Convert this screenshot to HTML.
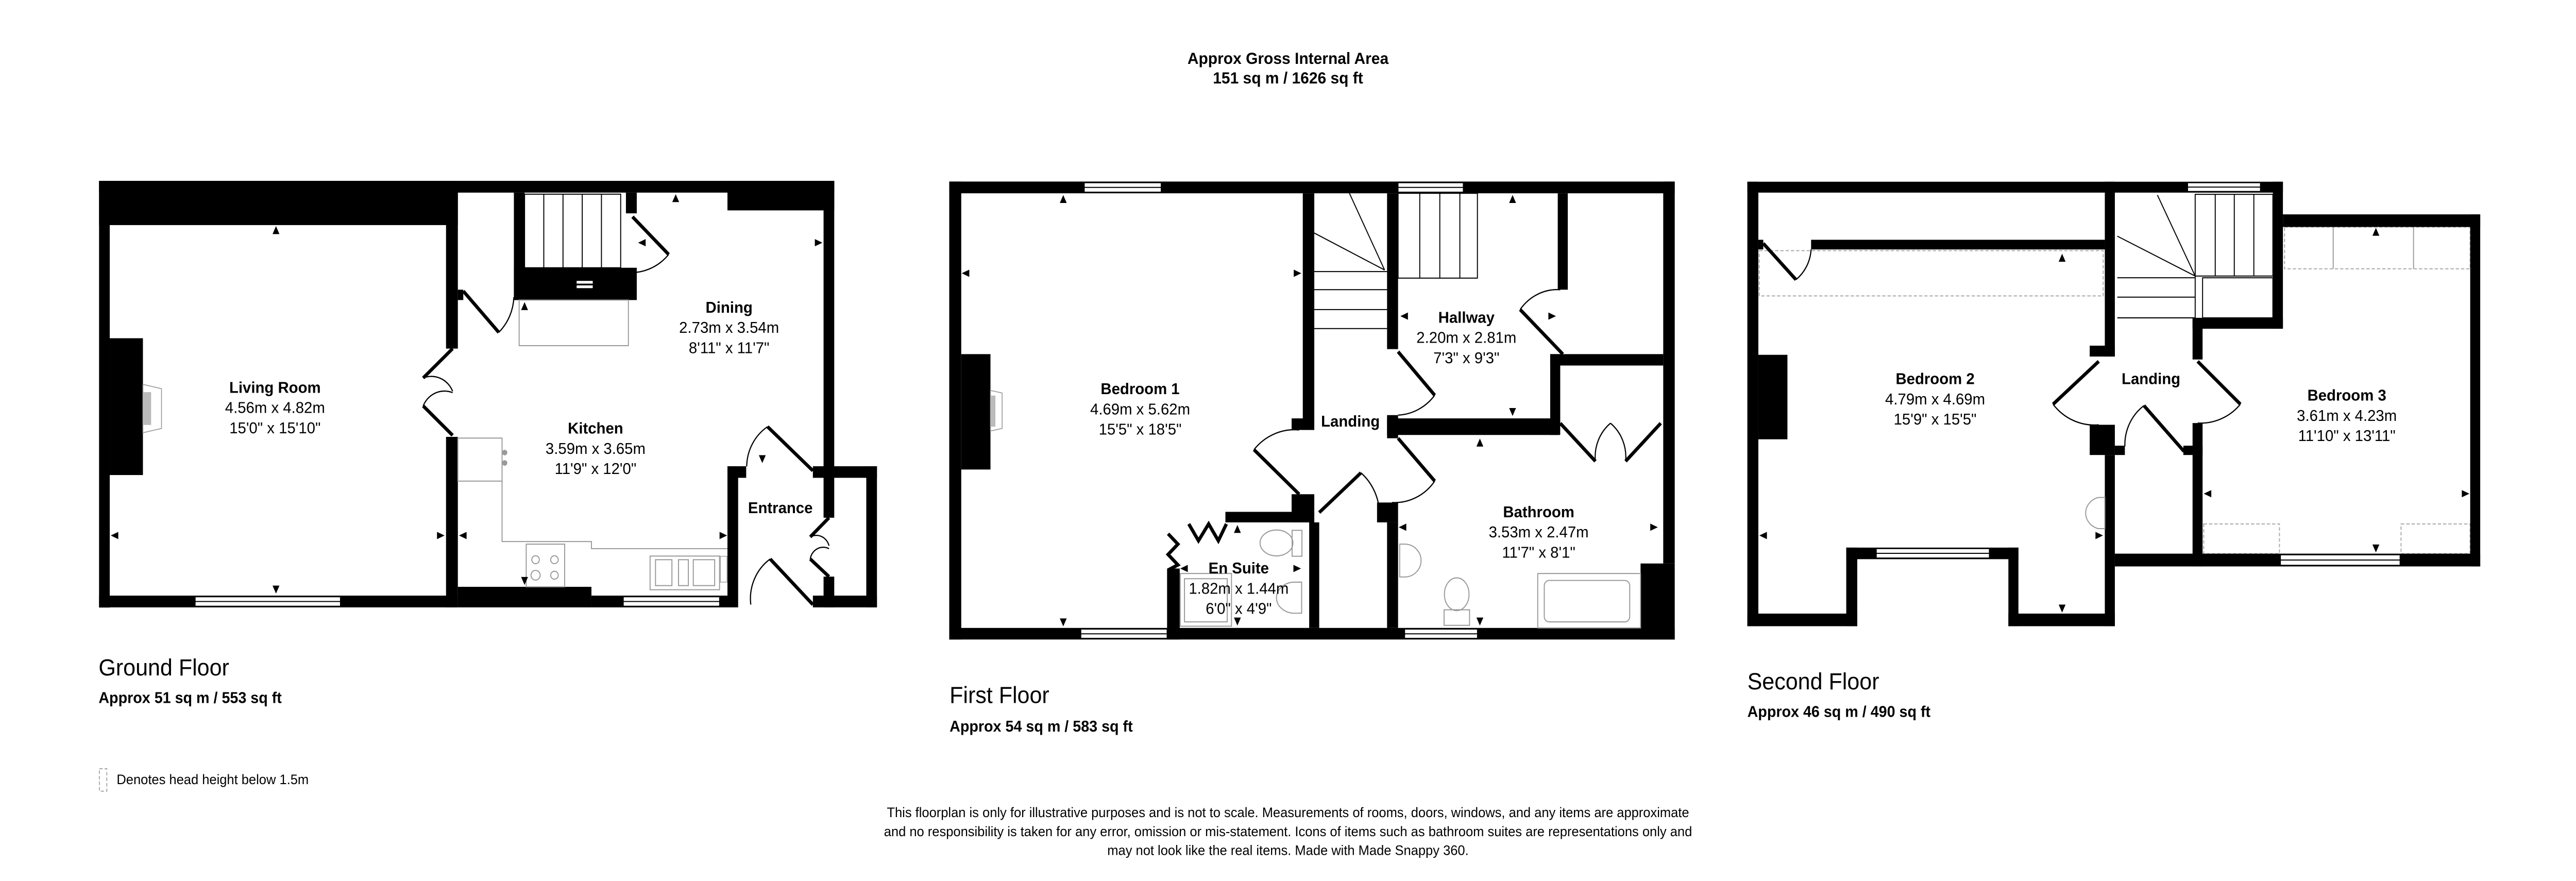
<!DOCTYPE html>
<html><head><meta charset="utf-8"><style>
html,body{margin:0;padding:0;background:#fff;width:100%;height:100%;overflow:hidden;}
svg{display:block;position:absolute;left:0;top:0;width:100vw;height:100vh;}
text{font-family:"Liberation Sans",Arial,sans-serif;fill:#000;}
.n{font-weight:bold;font-size:9.2px;text-anchor:middle;}
.d{font-size:9.2px;text-anchor:middle;}
.w{fill:#000;}
.win{fill:#fff;stroke:#000;stroke-width:0.5;}
.dr{stroke:#000;stroke-width:2;fill:none;stroke-linecap:butt;}
.arc{stroke:#000;stroke-width:0.7;fill:none;}
.th{stroke:#000;stroke-width:0.6;fill:none;}
.g{stroke:#999;stroke-width:0.6;fill:none;}
.ds{stroke:#aaa;stroke-width:0.6;fill:none;stroke-dasharray:2,1.2;}
</style></head><body>
<svg viewBox="0 0 1568 510" preserveAspectRatio="none" xmlns="http://www.w3.org/2000/svg">
<defs>
<path id="au" d="M0,-2.6 L-2.1,2 L2.1,2Z" fill="#000"/>
</defs>
<rect x="0" y="0" width="1568" height="510" fill="#fff"/>

<text x="784" y="37" style="font-weight:bold;font-size:9.4px;text-anchor:middle">Approx Gross Internal Area</text>
<text x="784" y="48.3" style="font-weight:bold;font-size:9.4px;text-anchor:middle">151 sq m / 1626 sq ft</text>

<!-- ================= GROUND FLOOR ================= -->
<g>
<rect class="w" x="60.3" y="104.7" width="447.5" height="6.8"/>
<rect class="w" x="60.3" y="104.7" width="218.4" height="25.6"/>
<rect class="w" x="442.8" y="104.7" width="65" height="17.1"/>
<rect class="w" x="60.3" y="104.7" width="6.5" height="247"/>
<rect class="w" x="60.3" y="344.8" width="218.4" height="6.8"/>
<rect class="win" x="118.8" y="345.5" width="88.4" height="5.4"/>
<line class="th" x1="118.8" y1="348.2" x2="207.2" y2="348.2"/>
<rect class="w" x="271.5" y="104.7" width="7.2" height="97.1"/>
<rect class="w" x="271.5" y="252.9" width="7.2" height="98.7"/>
<rect class="w" x="278.7" y="339.7" width="81.3" height="11.9"/>
<rect class="w" x="360" y="344.8" width="82.8" height="6.8"/>
<rect class="win" x="379.4" y="345.5" width="58.6" height="5.4"/>
<line class="th" x1="379.4" y1="348.2" x2="438" y2="348.2"/>
<rect class="w" x="442.8" y="269.9" width="6.5" height="81.7"/>
<rect class="w" x="442.8" y="269.9" width="11.4" height="6.7"/>
<rect class="w" x="494.8" y="269.9" width="39" height="6.7"/>
<rect class="w" x="501.3" y="104.7" width="6.5" height="171.9"/>
<rect class="w" x="527.3" y="269.9" width="6.5" height="81.7"/>
<rect class="w" x="501.3" y="276.6" width="6.5" height="23.1"/>
<rect class="w" x="501.3" y="333.8" width="6.5" height="17.8"/>
<rect class="w" x="494.8" y="344.8" width="39" height="6.8"/>
<rect class="w" x="66.8" y="195.8" width="20.2" height="79.2"/>
<path d="M87,222.5 L98.3,225 L98.3,248 L87,250.5Z" fill="#fff" stroke="#999" stroke-width="0.5"/>
<rect x="87" y="227" width="5" height="19" fill="#bbb"/>
<rect x="319.3" y="112.4" width="58.5" height="42.6" fill="#fff" stroke="#000" stroke-width="0.6"/>
<line class="th" x1="331" y1="112.4" x2="331" y2="155"/>
<line class="th" x1="342.7" y1="112.4" x2="342.7" y2="155"/>
<line class="th" x1="354.4" y1="112.4" x2="354.4" y2="155"/>
<line class="th" x1="366.1" y1="112.4" x2="366.1" y2="155"/>
<rect class="w" x="312.8" y="111.5" width="6.5" height="62.2"/>
<rect class="w" x="312.8" y="155" width="74.8" height="18.7"/>
<rect class="w" x="381" y="111.5" width="6.6" height="12"/>
<rect x="351" y="162.6" width="9.8" height="1.6" fill="#fff"/>
<rect x="351" y="165.2" width="9.8" height="1.6" fill="#fff"/>
<rect class="w" x="278.7" y="167.7" width="3.3" height="6"/>
<rect class="g" x="316" y="173.7" width="66.5" height="26.4"/>
<rect class="g" x="278.7" y="253.6" width="26.9" height="24.9"/>
<circle cx="307.2" cy="262" r="1.6" fill="#999"/>
<circle cx="307.2" cy="268" r="1.6" fill="#999"/>
<polyline class="g" points="305.6,278.5 305.6,313.5 360,313.5 360,317.6 442.8,317.6"/>
<rect class="g" x="320.3" y="315" width="23.4" height="24.7"/>
<circle class="g" cx="326" cy="324" r="2.3"/><circle class="g" cx="337.5" cy="324" r="2.3"/>
<circle class="g" cx="326" cy="333" r="2.8"/><circle class="g" cx="337.5" cy="333" r="2.3"/>
<rect class="g" x="395.7" y="321.9" width="42.3" height="19.5"/>
<rect class="g" x="399" y="324" width="10" height="15"/>
<rect class="g" x="413" y="324" width="6" height="15"/>
<rect class="g" x="422" y="324" width="13" height="15"/>
<rect x="438.5" y="322" width="4" height="15" fill="#fff" stroke="#999" stroke-width="0.4"/>
<line class="dr" x1="282" y1="168.5" x2="303.6" y2="192.4"/>
<path class="arc" d="M303.6,192.4 A30,30 0 0 0 312.8,172"/>
<line class="dr" x1="385" y1="125.5" x2="407" y2="147.3"/>
<path class="arc" d="M407,147.3 A30,30 0 0 1 380,157.5"/>
<line class="dr" x1="275.5" y1="201.8" x2="257.6" y2="218.8"/>
<path class="arc" d="M257.6,218.8 A14,14 0 0 1 275.5,226.5"/>
<line class="dr" x1="275.5" y1="252" x2="257.6" y2="235"/>
<path class="arc" d="M257.6,235 A14,14 0 0 1 275.5,227.3"/>
<line class="dr" x1="467.2" y1="247" x2="494.8" y2="272.5"/>
<path class="arc" d="M467.2,247 A28,28 0 0 0 454.5,270"/>
<line class="dr" x1="468.8" y1="323.6" x2="494.8" y2="350"/>
<path class="arc" d="M468.8,323.6 A28,28 0 0 0 457,350"/>
<line class="dr" x1="504.6" y1="299.7" x2="493.2" y2="310.8"/>
<path class="arc" d="M493.2,310.8 A8,8 0 0 1 504.6,315.9"/>
<line class="dr" x1="504.6" y1="333.8" x2="493.2" y2="323.6"/>
<path class="arc" d="M493.2,323.6 A8,8 0 0 1 504.6,317.6"/>
<use href="#au" x="168" y="133.5"/>
<use href="#au" transform="translate(168,341) rotate(180)"/>
<use href="#au" transform="translate(70,310) rotate(-90)"/>
<use href="#au" transform="translate(268,310) rotate(90)"/>
<use href="#au" transform="translate(282,310) rotate(-90)"/>
<use href="#au" transform="translate(440,310) rotate(90)"/>
<use href="#au" transform="translate(319.3,336) rotate(180)"/>
<use href="#au" x="319.3" y="177.5"/>
<use href="#au" x="411.3" y="115"/>
<use href="#au" transform="translate(498,140.5) rotate(90)"/>
<use href="#au" transform="translate(391,140.5) rotate(-90)"/>
<use href="#au" transform="translate(464,265.5) rotate(180)"/>
<text class="n" x="167.4" y="227.4">Living Room</text>
<text class="d" x="167.4" y="239.1">4.56m x 4.82m</text>
<text class="d" x="167.4" y="250.8">15'0" x 15'10"</text>
<text class="n" x="443.8" y="181">Dining</text>
<text class="d" x="443.8" y="192.7">2.73m x 3.54m</text>
<text class="d" x="443.8" y="204.4">8'11" x 11'7"</text>
<text class="n" x="362.5" y="251">Kitchen</text>
<text class="d" x="362.5" y="262.7">3.59m x 3.65m</text>
<text class="d" x="362.5" y="274.4">11'9" x 12'0"</text>
<text class="n" x="475" y="297">Entrance</text>
<text x="60" y="391" style="font-size:13.5px">Ground Floor</text>
<text x="60" y="407" style="font-size:9px;font-weight:bold">Approx 51 sq m / 553 sq ft</text>
</g>

<!-- ================= FIRST FLOOR ================= -->
<g>
<rect class="w" x="577.8" y="105.1" width="441.6" height="6.8"/>
<rect class="win" x="660" y="105.8" width="46.8" height="5.4"/>
<line class="th" x1="660" y1="108.5" x2="706.8" y2="108.5"/>
<rect class="win" x="851" y="105.8" width="39.7" height="5.4"/>
<line class="th" x1="851" y1="108.5" x2="890.7" y2="108.5"/>
<rect class="w" x="577.8" y="105.1" width="7.3" height="265.1"/>
<rect class="w" x="577.8" y="363.5" width="441.6" height="6.7"/>
<rect class="win" x="657.9" y="364.2" width="52.5" height="5.3"/>
<line class="th" x1="657.9" y1="366.9" x2="710.4" y2="366.9"/>
<rect class="win" x="855" y="364.2" width="44.3" height="5.3"/>
<line class="th" x1="855" y1="366.9" x2="899.3" y2="366.9"/>
<rect class="w" x="1012.4" y="105.1" width="7" height="221.1"/>
<rect class="w" x="998.6" y="326.2" width="20.8" height="44"/>
<rect class="w" x="585.1" y="205" width="17.8" height="66.8"/>
<path d="M602.9,226 L610,227.5 L610,248 L602.9,249.5Z" fill="#fff" stroke="#999" stroke-width="0.5"/>
<rect x="602.9" y="229" width="3" height="18" fill="#bbb"/>
<rect class="w" x="793" y="111.9" width="7" height="137"/>
<rect class="w" x="786.2" y="242.2" width="13.8" height="6.7"/>
<rect class="w" x="786.2" y="286.1" width="13.8" height="16.3"/>
<rect class="w" x="745.9" y="296.3" width="54.1" height="6.1"/>
<rect class="w" x="796.9" y="302.4" width="6.1" height="61.1"/>
<rect class="w" x="710.4" y="329.1" width="7.7" height="41.1"/>
<rect class="w" x="844.3" y="111.9" width="6.7" height="90.2"/>
<rect class="w" x="844.3" y="240.3" width="6.7" height="13.4"/>
<rect class="w" x="844.3" y="242.2" width="103.9" height="9.6"/>
<rect class="w" x="838.2" y="290.9" width="12.8" height="11.5"/>
<rect class="w" x="844.3" y="302.4" width="6.7" height="61.1"/>
<rect class="w" x="948.2" y="111.9" width="6.1" height="55.8"/>
<rect class="w" x="943.6" y="205" width="68.8" height="6.6"/>
<rect class="w" x="943.6" y="205" width="6.1" height="46.8"/>
<rect x="851" y="111.9" width="48.3" height="49.1" fill="none" stroke="#000" stroke-width="0.6"/>
<line class="th" x1="864.2" y1="111.9" x2="864.2" y2="161"/>
<line class="th" x1="876.4" y1="111.9" x2="876.4" y2="161"/>
<line class="th" x1="888.6" y1="111.9" x2="888.6" y2="161"/>
<line class="th" x1="821.4" y1="111.9" x2="842.8" y2="156.3"/>
<line class="th" x1="800" y1="134.9" x2="842.8" y2="156.3"/>
<line class="th" x1="800" y1="157.2" x2="844.3" y2="157.2"/>
<line class="th" x1="800" y1="167.7" x2="844.3" y2="167.7"/>
<line class="th" x1="800" y1="179.2" x2="844.3" y2="179.2"/>
<line class="th" x1="800" y1="190.2" x2="844.3" y2="190.2"/>
<line class="dr" x1="851" y1="203.6" x2="873.3" y2="228.8"/>
<path class="arc" d="M873.3,228.8 A30,30 0 0 1 851,240.3"/>
<line class="dr" x1="790.8" y1="286.1" x2="763.3" y2="260.3"/>
<path class="arc" d="M763.3,260.3 A32,32 0 0 1 790.8,248.9"/>
<line class="dr" x1="851" y1="253.7" x2="873.3" y2="278.5"/>
<path class="arc" d="M873.3,278.5 A30,30 0 0 1 847.3,290.9"/>
<line class="dr" x1="803" y1="296.7" x2="828.4" y2="273.7"/>
<path class="arc" d="M828.4,273.7 A32,32 0 0 1 839.7,296.7"/>
<line class="dr" x1="951.3" y1="205" x2="925.3" y2="179.2"/>
<path class="arc" d="M925.3,179.2 A28,28 0 0 1 949.7,167.7"/>
<polyline class="dr" points="949.7,245 971.1,267"/>
<path class="arc" d="M971.1,267 A25,25 0 0 1 980.3,245"/>
<polyline class="dr" points="1010.9,245 989.5,267"/>
<path class="arc" d="M989.5,267 A25,25 0 0 0 980.3,245"/>
<polyline class="dr" points="723.6,303.3 729.5,313 735.7,303.3 741.6,313 746.5,303.3"/>
<polyline class="dr" points="711,309 717,315 711,321 717,327 711,330"/>
<rect class="g" x="936" y="332" width="62.6" height="31.5"/>
<rect class="g" x="940" y="336" width="52" height="24" rx="3"/>
<ellipse class="g" cx="886.7" cy="344" rx="7.5" ry="9.5"/>
<rect class="g" x="879" y="353" width="15.5" height="9"/>
<path class="g" d="M852,315 L855,315 A10,9.5 0 0 1 855,334 L852,334Z"/>
<ellipse class="g" cx="777" cy="314.3" rx="10" ry="7.5"/>
<rect class="g" x="786.5" y="307" width="6" height="15"/>
<path class="g" d="M792.3,337 L788,337 A11,9 0 0 0 788,355 L792.3,355Z"/>
<rect class="g" x="718.4" y="332" width="31.2" height="30.5"/>
<rect class="g" x="721" y="335" width="26" height="25"/>
<use href="#au" x="647.2" y="115.5"/>
<use href="#au" transform="translate(647.2,360) rotate(180)"/>
<use href="#au" transform="translate(588,158.2) rotate(-90)"/>
<use href="#au" transform="translate(789.5,158.2) rotate(90)"/>
<use href="#au" x="920.7" y="115.5"/>
<use href="#au" transform="translate(920.7,238.2) rotate(180)"/>
<use href="#au" transform="translate(855,183) rotate(-90)"/>
<use href="#au" transform="translate(944.5,183) rotate(90)"/>
<use href="#au" x="900.8" y="256.5"/>
<use href="#au" transform="translate(854,305.2) rotate(-90)"/>
<use href="#au" transform="translate(1006.5,305.2) rotate(90)"/>
<use href="#au" transform="translate(900.8,359.5) rotate(180)"/>
<use href="#au" x="753.2" y="306.5"/>
<use href="#au" transform="translate(753.2,359.5) rotate(180)"/>
<use href="#au" transform="translate(721,329.1) rotate(-90)"/>
<use href="#au" transform="translate(789.3,329.1) rotate(90)"/>
<text class="n" x="694" y="228.2">Bedroom 1</text>
<text class="d" x="694" y="239.9">4.69m x 5.62m</text>
<text class="d" x="694" y="251.6">15'5" x 18'5"</text>
<text class="n" x="892.6" y="186.8">Hallway</text>
<text class="d" x="892.6" y="198.5">2.20m x 2.81m</text>
<text class="d" x="892.6" y="210.2">7'3" x 9'3"</text>
<text class="n" x="822" y="247">Landing</text>
<text class="n" x="936.6" y="299.4">Bathroom</text>
<text class="d" x="936.6" y="311.1">3.53m x 2.47m</text>
<text class="d" x="936.6" y="322.8">11'7" x 8'1"</text>
<text class="n" x="754" y="332">En Suite</text>
<text class="d" x="754" y="343.7">1.82m x 1.44m</text>
<text class="d" x="754" y="355.4">6'0" x 4'9"</text>
<text x="578" y="407" style="font-size:13.5px">First Floor</text>
<text x="578" y="423.5" style="font-size:9px;font-weight:bold">Approx 54 sq m / 583 sq ft</text>
</g>

<!-- ================= SECOND FLOOR ================= -->
<g>
<rect class="ds" x="1070.9" y="145.1" width="209.3" height="26.2"/>
<rect class="ds" x="1390.6" y="131.4" width="113" height="24.2"/>
<line class="g" x1="1420.2" y1="131.4" x2="1420.2" y2="155.6"/>
<line class="g" x1="1469.1" y1="131.4" x2="1469.1" y2="155.6"/>
<rect class="ds" x="1341.4" y="303.3" width="46.1" height="17.2"/>
<rect class="ds" x="1461.5" y="303.3" width="42.1" height="17.2"/>
<rect class="w" x="1063.6" y="105.2" width="326" height="6.3"/>
<rect class="win" x="1331.6" y="105.8" width="44.3" height="5"/>
<line class="th" x1="1331.6" y1="108.3" x2="1375.9" y2="108.3"/>
<rect class="w" x="1063.6" y="105.2" width="6.7" height="257.3"/>
<rect class="w" x="1063.6" y="355.2" width="66.9" height="7.3"/>
<rect class="w" x="1123.8" y="317" width="6.7" height="45.5"/>
<rect class="w" x="1123.8" y="317" width="104.8" height="6.7"/>
<rect class="win" x="1142.1" y="317.6" width="68.8" height="5.4"/>
<line class="th" x1="1142.1" y1="320.3" x2="1210.9" y2="320.3"/>
<rect class="w" x="1222.5" y="317" width="6.1" height="45.5"/>
<rect class="w" x="1222.5" y="355.2" width="64.8" height="7.3"/>
<rect class="w" x="1281.2" y="105.2" width="6.1" height="101.2"/>
<rect class="w" x="1272" y="200.1" width="15.3" height="6.3"/>
<rect class="w" x="1272" y="245.9" width="15.3" height="17.5"/>
<rect class="w" x="1281.2" y="263.4" width="6.1" height="99.1"/>
<rect class="w" x="1287.3" y="258" width="6.1" height="5.4"/>
<rect class="w" x="1102.4" y="138.8" width="178.8" height="5.6"/>
<rect class="w" x="1070.3" y="138.8" width="3" height="5.6"/>
<rect class="w" x="1383.5" y="105.2" width="6.1" height="85.1"/>
<rect class="w" x="1334.6" y="184" width="55" height="6.3"/>
<rect class="w" x="1334.6" y="184" width="6.1" height="24.1"/>
<rect class="w" x="1334.6" y="244.9" width="6.1" height="83"/>
<rect class="w" x="1329" y="258" width="11.7" height="5.4"/>
<rect class="w" x="1287.3" y="320.5" width="222.4" height="7.4"/>
<rect class="win" x="1388.1" y="321.2" width="72.8" height="6"/>
<line class="th" x1="1388.1" y1="324.2" x2="1460.9" y2="324.2"/>
<rect class="w" x="1389.6" y="124.1" width="120.1" height="7.3"/>
<rect class="w" x="1503.6" y="124.1" width="6.1" height="203.8"/>
<rect class="w" x="1070.3" y="205.4" width="17.7" height="48.9"/>
<rect x="1336.2" y="112.5" width="47.3" height="47.3" fill="none" stroke="#000" stroke-width="0.6"/>
<line class="th" x1="1348.4" y1="112.5" x2="1348.4" y2="159.8"/>
<line class="th" x1="1360" y1="112.5" x2="1360" y2="159.8"/>
<line class="th" x1="1371.9" y1="112.5" x2="1371.9" y2="159.8"/>
<rect x="1340.7" y="160.8" width="42.8" height="23.2" fill="none" stroke="#000" stroke-width="0.6"/>
<line class="th" x1="1313.2" y1="112.9" x2="1336.2" y2="159.8"/>
<line class="th" x1="1288.8" y1="136.7" x2="1336.2" y2="159.8"/>
<line class="th" x1="1288.8" y1="160.8" x2="1336.2" y2="160.8"/>
<line class="th" x1="1288.8" y1="172" x2="1336.2" y2="172"/>
<line class="th" x1="1288.8" y1="184" x2="1336.2" y2="184"/>
<line class="th" x1="1336.2" y1="159.8" x2="1336.2" y2="184"/>
<line class="dr" x1="1277.5" y1="209.2" x2="1249.7" y2="234"/>
<path class="arc" d="M1249.7,234 A32,32 0 0 0 1277.5,245.9"/>
<line class="dr" x1="1337.7" y1="209.2" x2="1363.7" y2="234"/>
<path class="arc" d="M1363.7,234 A32,32 0 0 1 1337.7,244.9"/>
<line class="dr" x1="1305" y1="234.8" x2="1329.4" y2="261.3"/>
<path class="arc" d="M1305,234.8 A28,28 0 0 0 1293.4,258.4"/>
<line class="dr" x1="1073.3" y1="140.9" x2="1093.2" y2="161.9"/>
<path class="arc" d="M1093.2,161.9 A24,24 0 0 0 1102.4,144.4"/>
<path class="g" d="M1281.2,288 L1277,288 A11,9.5 0 0 0 1277,306 L1281.2,306Z"/>
<use href="#au" x="1255.2" y="149.5"/>
<use href="#au" transform="translate(1255.2,352) rotate(180)"/>
<use href="#au" transform="translate(1073.5,310) rotate(-90)"/>
<use href="#au" transform="translate(1277.5,310) rotate(90)"/>
<use href="#au" x="1446.2" y="134.5"/>
<use href="#au" transform="translate(1446.2,317.2) rotate(180)"/>
<use href="#au" transform="translate(1344,285.8) rotate(-90)"/>
<use href="#au" transform="translate(1500.5,285.8) rotate(90)"/>
<text class="n" x="1177.9" y="222.4">Bedroom 2</text>
<text class="d" x="1177.9" y="234.1">4.79m x 4.69m</text>
<text class="d" x="1177.9" y="245.8">15'9" x 15'5"</text>
<text class="n" x="1309.3" y="222.4">Landing</text>
<text class="n" x="1428.5" y="231.9">Bedroom 3</text>
<text class="d" x="1428.5" y="243.6">3.61m x 4.23m</text>
<text class="d" x="1428.5" y="255.3">11'10" x 13'11"</text>
<text x="1063.6" y="399" style="font-size:13.5px">Second Floor</text>
<text x="1063.6" y="415" style="font-size:9px;font-weight:bold">Approx 46 sq m / 490 sq ft</text>
</g>

<rect class="ds" x="60.5" y="445" width="4.5" height="13"/>
<text x="71" y="454" style="font-size:8px">Denotes head height below 1.5m</text>
<text x="784" y="473" style="font-size:8px;text-anchor:middle">This floorplan is only for illustrative purposes and is not to scale. Measurements of rooms, doors, windows, and any items are approximate</text>
<text x="784" y="484" style="font-size:8px;text-anchor:middle">and no responsibility is taken for any error, omission or mis-statement. Icons of items such as bathroom suites are representations only and</text>
<text x="784" y="495" style="font-size:8px;text-anchor:middle">may not look like the real items. Made with Made Snappy 360.</text>
</svg>
</body></html>
